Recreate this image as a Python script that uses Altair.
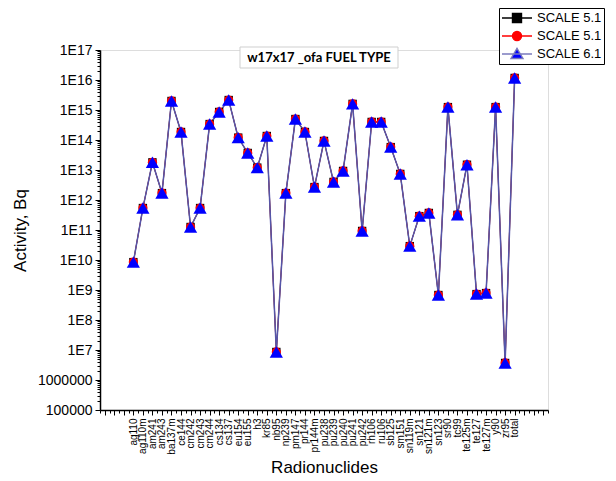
import json
import altair as alt
import pandas as pd

# ---------------- data ----------------
nuclides = ["ag110", "ag110m", "am241", "am243", "ba137m", "ce144", "cm242", "cm243",
            "cm244", "cs134", "cs137", "eu154", "eu155", "h3", "kr85", "nb95", "np239",
            "pm147", "pr144", "pr144m", "pu238", "pu239", "pu240", "pu241", "pu242",
            "rh106", "ru106", "sb125", "sm151", "sn119m", "sn121", "sn121m", "sn123",
            "sr90", "tc99", "te125m", "te127", "te127m", "y90", "zr95", "total"]

scale51_a = [8.5e9, 5.4e11, 1.8e13, 1.7e12, 2.0e15, 1.85e14, 1.26e11, 5.4e11,
             3.4e14, 8.6e14, 2.15e15, 1.2e14, 3.7e13, 1.2e13, 1.36e14, 8.6e6, 1.7e12,
             5.0e14, 1.85e14, 2.7e12, 9.3e13, 4.0e12, 9.3e12, 1.6e15, 9.3e10,
             4.0e14, 4.0e14, 5.8e13, 7.4e12, 2.9e10, 2.9e11, 3.7e11, 6.8e8,
             1.25e15, 3.2e11, 1.5e13, 7.3e8, 7.9e8, 1.25e15, 3.7e6, 1.17e16]

scale51_b = [8.5e9, 5.4e11, 1.8e13, 1.7e12, 2.0e15, 1.85e14, 1.26e11, 5.4e11,
             3.4e14, 8.6e14, 2.15e15, 1.2e14, 3.7e13, 1.2e13, 1.36e14, 8.6e6, 1.7e12,
             5.0e14, 1.85e14, 2.7e12, 9.3e13, 4.0e12, 9.3e12, 1.6e15, 9.3e10,
             4.0e14, 4.0e14, 5.8e13, 7.4e12, 2.9e10, 2.9e11, 3.7e11, 6.8e8,
             1.25e15, 3.2e11, 1.5e13, 7.3e8, 7.9e8, 1.25e15, 3.7e6, 1.17e16]

scale61 = [8.5e9, 5.4e11, 1.8e13, 1.7e12, 2.0e15, 1.85e14, 1.26e11, 5.4e11,
           3.4e14, 8.6e14, 2.15e15, 1.2e14, 3.7e13, 1.2e13, 1.36e14, 8.6e6, 1.7e12,
           5.0e14, 1.85e14, 2.7e12, 9.3e13, 4.0e12, 9.3e12, 1.6e15, 9.3e10,
           4.0e14, 4.0e14, 5.8e13, 7.4e12, 2.9e10, 2.9e11, 3.7e11, 6.8e8,
           1.25e15, 3.2e11, 1.5e13, 7.3e8, 7.9e8, 1.25e15, 3.7e6, 1.17e16]

series_keys = ["A", "B", "C"]
series_labels = ["SCALE 5.1", "SCALE 5.1", "SCALE 6.1"]
line_colors = ["#000000", "#ff0000", "#5555a8"]
legend_line_colors = ["#000000", "#ff0000", "#7b7bbd"]
line_widths = [0.8, 0.8, 1.5]
marker_colors = ["#000000", "#ff0000", "#0000ff"]
marker_shapes = ["square", "circle", "triangle-up"]
marker_sizes = [70, 85, 175]

title_text = "w17x17 _ofa FUEL TYPE"
x_title = "Radionuclides"
y_title = "Activity, Bq"

# ---------------- table ----------------
rows = []
for key, vals in zip(series_keys, [scale51_a, scale51_b, scale61]):
    for i, (name, v) in enumerate(zip(nuclides, vals)):
        rows.append({"series": key, "idx": i, "nuclide": name, "activity": v})
df = pd.DataFrame(rows)

n = len(nuclides)
x_ticks = [k * 0.5 for k in range(-7, 2 * (n - 1) + 8)]
y_ticks = [m * 10 ** e for e in range(5, 17) for m in range(1, 10)] + [10 ** 17]

FONT = "Liberation Sans"
names_js = json.dumps(nuclides)
x_label_expr = (f"(datum.value % 1 == 0 && datum.value >= 0 && datum.value < {n}) "
                f"? {names_js}[datum.value] : ''")
major_y = "abs(log(datum.value)/LN10 - round(log(datum.value)/LN10)) < 1e-6"
y_label_expr = (f"({major_y}) ? (datum.value >= 1e7 ? '1E' + round(log(datum.value)/LN10) "
                f": format(datum.value, 'd')) : ''")

X = alt.X("idx:Q",
          scale=alt.Scale(domain=[-3.5, n - 1 + 3.5], nice=False, zero=False),
          axis=alt.Axis(values=x_ticks, labelExpr=x_label_expr, labelAngle=270,
                        labelAlign="right", labelBaseline="middle", labelFont=FONT,
                        labelFontSize=10, labelColor="black", labelOverlap=False,
                        labelPadding=3, grid=False, domainColor="black", domainWidth=1.5,
                        tickColor="black", tickWidth=1,
                        tickSize={"condition": {"test": "datum.value % 1 == 0", "value": 5},
                                  "value": 3},
                        title=x_title, titleFont=FONT, titleFontSize=17,
                        titleFontWeight="normal", titleColor="black", titlePadding=5))

Y = alt.Y("activity:Q",
          scale=alt.Scale(type="log", domain=[1e5, 1e17], nice=False),
          axis=alt.Axis(values=y_ticks, labelExpr=y_label_expr, labelFont=FONT,
                        labelFontSize=14, labelColor="black", labelOverlap=False,
                        labelPadding=3, grid=False, domainColor="black", domainWidth=1.5,
                        tickColor="black", tickWidth=1,
                        tickSize={"condition": {"test": major_y, "value": 5}, "value": 3},
                        title=y_title, titleFont=FONT, titleFontSize=17,
                        titleFontWeight="normal", titleColor="black", titlePadding=8))

base = alt.Chart(df).encode(x=X, y=Y)

line_layers = [
    base.transform_filter(f"datum.series == '{k}'").mark_line(color=c, strokeWidth=w)
    for k, c, w in zip(series_keys, line_colors, line_widths)
]
point_layers = [
    base.transform_filter(f"datum.series == '{k}'").mark_point(
        shape=s, filled=True, color=c, size=sz, opacity=1)
    for k, c, s, sz in zip(series_keys, marker_colors, marker_shapes, marker_sizes)
]

# chart title drawn inside the plot area in a faint box, as in the reference
title_df = pd.DataFrame({"t": [title_text]})
title_box = alt.Chart(title_df).mark_rect(
    fill="white", stroke="#cfcfcf", strokeWidth=1).encode(
    x=alt.value(140), x2=alt.value(298), y=alt.value(-3), y2=alt.value(18))
title_layer = alt.Chart(title_df).mark_text(
    font="Lato", fontSize=13, fontWeight="bold", color="black",
    align="center", baseline="middle").encode(
    text="t:N", x=alt.value(219), y=alt.value(8))

# legend: line + symbol glyphs
legend_paths = [
    "M-1,0H1M-0.3,-0.3H0.3V0.3H-0.3Z",
    "M-1,0H1M-0.3,0A0.3,0.3,0,1,0,0.3,0A0.3,0.3,0,1,0,-0.3,0Z",
    "M-1,0H1M0,-0.38L0.4,0.3H-0.4Z",
]
lab_map = json.dumps(dict(zip(series_keys, series_labels)))
LEG = alt.Legend(orient="none", legendX=399, legendY=-42, padding=2,
                 strokeColor="black", fillColor="white", symbolSize=900,
                 symbolStrokeWidth=1.4, symbolOpacity=1, labelFont=FONT, labelFontSize=13,
                 labelColor="black", labelOffset=4, clipHeight=16, rowPadding=2,
                 labelExpr=f"{lab_map}[datum.label]")
legend_layer = alt.Chart(df).transform_filter("false").mark_point(
    filled=True, opacity=1).encode(
    shape=alt.Shape("series:N", scale=alt.Scale(domain=series_keys, range=legend_paths),
                    legend=LEG, title=""),
    fill=alt.Fill("series:N", scale=alt.Scale(domain=series_keys, range=marker_colors),
                  legend=LEG, title=""),
    stroke=alt.Stroke("series:N",
                      scale=alt.Scale(domain=series_keys, range=legend_line_colors),
                      legend=LEG, title=""),
)

chart = alt.layer(*line_layers, *point_layers, title_box, title_layer,
                  legend_layer).properties(
    width=448, height=360,
    autosize=alt.AutoSizeParams(type="none"),
    padding={"left": 92, "top": 42, "right": 60, "bottom": 68},
).configure_view(strokeWidth=0).configure(background="white")

chart.save("out.html", embed_options={"renderer": "svg", "actions": False})
